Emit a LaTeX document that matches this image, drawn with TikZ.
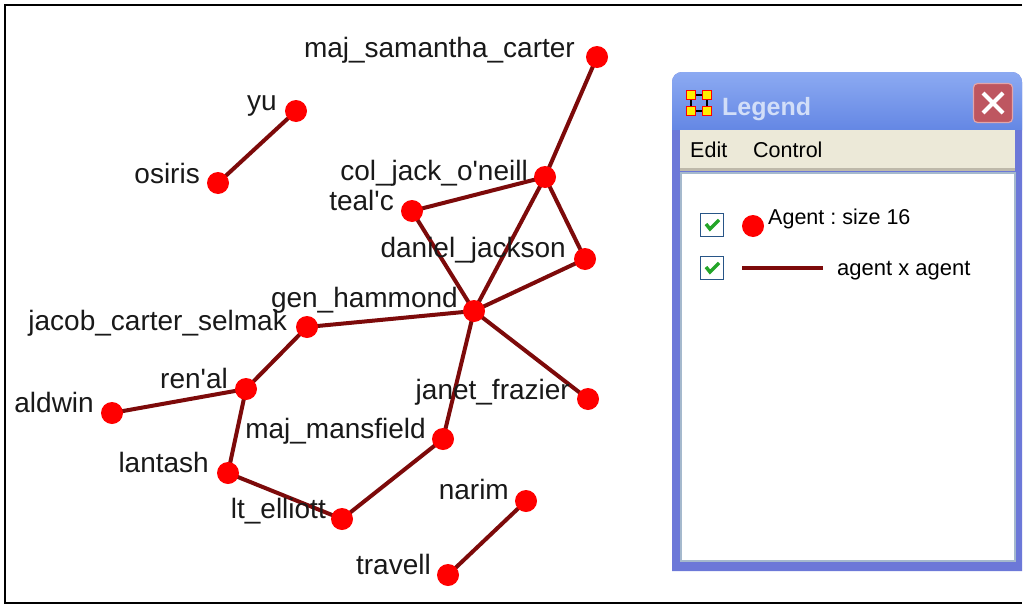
\documentclass[tikz,border=0pt]{standalone}
\usepackage{fontspec}
\setmainfont{Liberation Sans}
\usetikzlibrary{calc}
\definecolor{nodered}{RGB}{255,0,0}
\definecolor{edgered}{RGB}{125,10,10}
\definecolor{labelgray}{RGB}{25,25,25}
\definecolor{frameblue}{RGB}{108,120,216}
\definecolor{titletop}{RGB}{140,170,242}
\definecolor{titlebot}{RGB}{100,135,228}
\definecolor{titletext}{RGB}{210,222,248}
\definecolor{closefill}{RGB}{190,86,96}
\definecolor{closerim}{RGB}{225,165,170}
\definecolor{menubeige}{RGB}{236,233,216}
\definecolor{menuline}{RGB}{190,185,170}
\definecolor{panelrim}{RGB}{165,185,205}
\definecolor{cbrim}{RGB}{40,85,135}
\definecolor{cbgreen}{RGB}{35,165,40}
\definecolor{iconyellow}{RGB}{255,240,0}
\pgfdeclarelayer{bg}
\pgfsetlayers{bg,main}
\frenchspacing
\begin{document}
\begin{tikzpicture}[x=1pt,y=-1pt,
  dot/.style={circle,fill=nodered,inner sep=0pt,minimum size=22pt},
  lbl/.style={anchor=base east,inner sep=0pt,font=\fontsize{28}{30}\selectfont,text=labelgray},
  edge/.style={draw=edgered,line width=4pt},
  legtext/.style={anchor=base west,inner sep=0pt,font=\fontsize{22}{24}\selectfont,text=black},
  cbox/.style={rectangle,draw=cbrim,line width=1.8pt,fill=white,minimum size=23pt,inner sep=0pt},
  icsq/.style={rectangle,draw=nodered,line width=1.5pt,fill=iconyellow,minimum size=9pt,inner sep=0pt},
  checkmark/.style={draw=cbgreen,line width=3.5pt}]
\useasboundingbox (0,0) rectangle (1025,605);
\begin{pgfonlayer}{bg}
\fill[white] (0,0) rectangle (1025,605);
\end{pgfonlayer}
\draw[line width=2pt,draw=black] (1022,5) -- (5,5) -- (5,603) -- (1022,603);

% graph nodes
\node[dot] (sam) at (597,57) {};
\node[dot] (yu) at (296,111) {};
\node[dot] (osiris) at (218,183) {};
\node[dot] (jack) at (545,177) {};
\node[dot] (tealc) at (412,211) {};
\node[dot] (daniel) at (585,259) {};
\node[dot] (hammond) at (474,311) {};
\node[dot] (jacob) at (307,327) {};
\node[dot] (renal) at (246,389) {};
\node[dot] (aldwin) at (112,413) {};
\node[dot] (janet) at (588,399) {};
\node[dot] (mansfield) at (443,439) {};
\node[dot] (lantash) at (228,473) {};
\node[dot] (elliott) at (342,519) {};
\node[dot] (narim) at (526,501) {};
\node[dot] (travell) at (448,575) {};

\begin{pgfonlayer}{bg}
\draw[edge] (yu.center) -- (osiris.center);
\draw[edge] (sam.center) -- (jack.center);
\draw[edge] (jack.center) -- (tealc.center);
\draw[edge] (jack.center) -- (daniel.center);
\draw[edge] (jack.center) -- (hammond.center);
\draw[edge] (tealc.center) -- (hammond.center);
\draw[edge] (daniel.center) -- (hammond.center);
\draw[edge] (hammond.center) -- (janet.center);
\draw[edge] (hammond.center) -- (jacob.center);
\draw[edge] (hammond.center) -- (mansfield.center);
\draw[edge] (jacob.center) -- (renal.center);
\draw[edge] (renal.center) -- (aldwin.center);
\draw[edge] (renal.center) -- (lantash.center);
\draw[edge] (lantash.center) -- (elliott.center);
\draw[edge] (elliott.center) -- (mansfield.center);
\draw[edge] (narim.center) -- (travell.center);
\end{pgfonlayer}

% labels
\node[lbl] (l-sam) at (575,57) {maj\_samantha\_carter};
\node[lbl] (l-yu) at (277,110) {yu};
\node[lbl] (l-osiris) at (200,183) {osiris};
\node[lbl] (l-jack) at (528,180) {col\_jack\_o\textquotesingle neill};
\node[lbl] (l-tealc) at (394,210) {teal\textquotesingle c};
\node[lbl] (l-daniel) at (566,257) {daniel\_jackson};
\node[lbl] (l-hammond) at (458,307) {gen\_hammond};
\node[lbl] (l-jacob) at (287,330) {jacob\_carter\_selmak};
\node[lbl] (l-renal) at (228,388) {ren\textquotesingle al};
\node[lbl] (l-aldwin) at (94,412) {aldwin};
\node[lbl] (l-janet) at (570,399) {janet\_frazier};
\node[lbl] (l-mansfield) at (426,438) {maj\_mansfield};
\node[lbl] (l-lantash) at (209,472) {lantash};
\node[lbl] (l-elliott) at (326,518) {lt\_elliott};
\node[lbl] (l-narim) at (509,499) {narim};
\node[lbl] (l-travell) at (431,574) {travell};

% legend window
\fill[frameblue] (672,571) [rounded corners=10pt] -- (672,72) -- (1022,72) [sharp corners] -- (1022,571) -- cycle;
\shade[top color=titletop,bottom color=titlebot] (672,130) [rounded corners=10pt] -- (672,72) -- (1022,72) [sharp corners] -- (1022,130) -- cycle;
\fill[menubeige] (680,130) rectangle (1015,170);
\fill[menuline] (680,168) rectangle (1015,171);
\fill[panelrim] (680,172) rectangle (1016,562);
\fill[white] (682,174) rectangle (1014,560);

% icon
\node[icsq] (ic1) at (691,95) {};
\node[icsq] (ic2) at (707,95) {};
\node[icsq] (ic3) at (691,111) {};
\node[icsq] (ic4) at (707,111) {};
\draw[line width=1.5pt] (ic1) -- (ic2);
\draw[line width=1.5pt] (ic3) -- (ic4);
\draw[line width=1.5pt] (ic1) -- (ic3);
\draw[line width=1.5pt] (ic2) -- (ic4);

\node[anchor=base west,inner sep=0pt,font=\fontsize{25}{27}\selectfont\bfseries,text=titletext] (title) at (722,115) {Legend};

% close button
\node[rectangle,rounded corners=4pt,fill=closefill,draw=closerim,line width=1.2pt,minimum size=39pt,inner sep=0pt] (close) at (993,103) {};
\draw[white,line width=4pt] ($(close.center)+(-10,-10)$) -- ($(close.center)+(10,10)$);
\draw[white,line width=4pt] ($(close.center)+(-10,10)$) -- ($(close.center)+(10,-10)$);

% menu
\node[legtext,font=\fontsize{21.5}{23}\selectfont] (m-edit) at (690,157) {Edit};
\node[legtext,font=\fontsize{21.5}{23}\selectfont] (m-control) at (753,157) {Control};

% legend items
\node[cbox] (cb1) at (712,225) {};
\node[cbox] (cb2) at (712,268) {};
\draw[checkmark] ($(cb1.center)+(-6,-1)$) -- ($(cb1.center)+(-2,4)$) -- ($(cb1.center)+(7,-5)$);
\draw[checkmark] ($(cb2.center)+(-6,-1)$) -- ($(cb2.center)+(-2,4)$) -- ($(cb2.center)+(7,-5)$);
\node[dot] (ldot) at (753,226) {};
\node[legtext,font=\fontsize{21.5}{23}\selectfont] (t-agent) at (768,224) {Agent : size 16};
\coordinate (ll1) at (742,268);
\coordinate (ll2) at (823,268);
\draw[edge] (ll1) -- (ll2);
\node[legtext] (t-axa) at (837,275) {agent x agent};
\end{tikzpicture}
\end{document}
